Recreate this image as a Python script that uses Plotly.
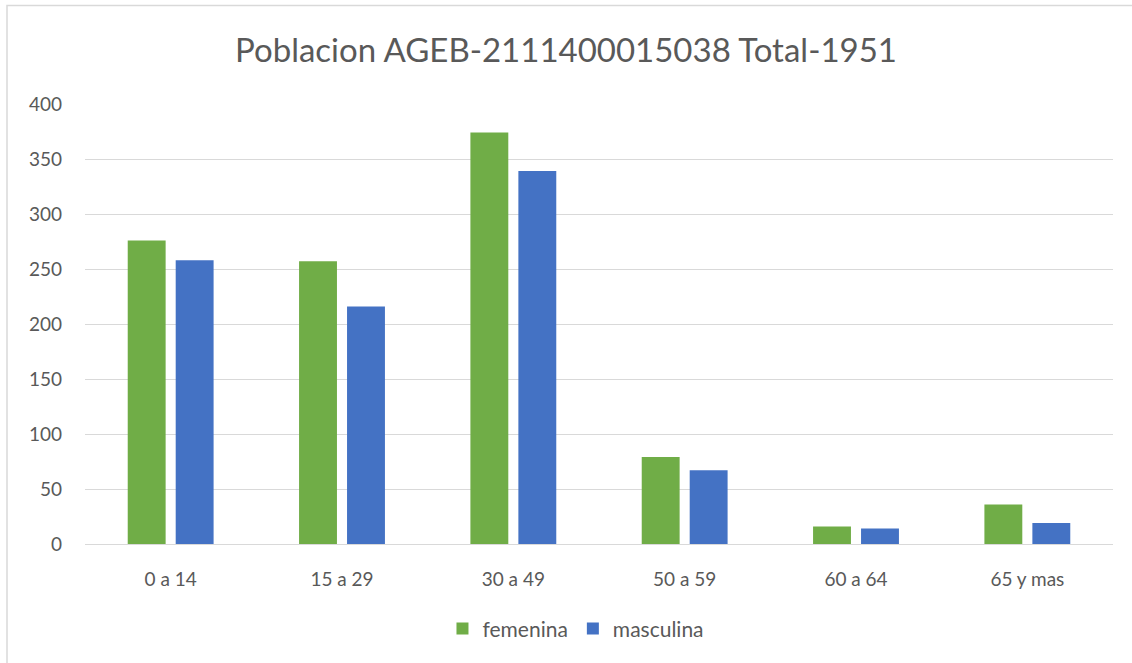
import plotly.graph_objects as go

categories = ["0 a 14", "15 a 29", "30 a 49", "50 a 59", "60 a 64", "65 y mas"]
femenina = [276, 257, 374, 79, 16, 36]
masculina = [258, 216, 339, 67, 14, 19]
y_ticks = [0, 50, 100, 150, 200, 250, 300, 350, 400]

FONT = "Lato"
GRAY = "#595959"

fig = go.Figure()
fig.add_trace(go.Bar(name="femenina", x=categories, y=femenina, marker_color="#70ad47",
                     marker_line_width=0))
fig.add_trace(go.Bar(name="masculina", x=categories, y=masculina, marker_color="#4472c4",
                     marker_line_width=0))

fig.update_layout(
    width=1132, height=663,
    paper_bgcolor="white", plot_bgcolor="white",
    margin=dict(l=85, r=19, t=104, b=119, autoexpand=False),
    barmode="group", bargap=0.44, bargroupgap=0.21,
    title=dict(text="Poblacion AGEB-2111400015038 Total-1951", x=0.5, xanchor="center",
               y=1 - 50 / 663, yanchor="middle",
               font=dict(family=FONT, size=33, color=GRAY)),
    font=dict(family=FONT, size=19, color=GRAY),
    legend=dict(orientation="h", x=0.4776, xanchor="center", y=-0.193, yanchor="middle",
                font=dict(family=FONT, size=21, color=GRAY), traceorder="normal"),
    xaxis=dict(showgrid=False, showline=True, linecolor="#d9d9d9", linewidth=1,
               ticks="", ticklabelstandoff=18, tickfont=dict(size=19, color=GRAY)),
    yaxis=dict(range=[0, 400], tickvals=y_ticks, showgrid=True, gridcolor="#d9d9d9",
               gridwidth=1, zeroline=False, showline=False, ticks="",
               ticklabelstandoff=22, tickfont=dict(size=19, color=GRAY)),
    shapes=[dict(type="rect", xref="paper", yref="paper",
                 x0=(7 - 85) / 1028, x1=1.2, y0=-0.4, y1=(544 - 5.5) / 440,
                 line=dict(color="#d9d9d9", width=1.5), layer="below")],
)

fig.write_html("out.html", config={"displayModeBar": False},
               post_script="document.body.style.margin='0';document.body.style.overflow='hidden';")
